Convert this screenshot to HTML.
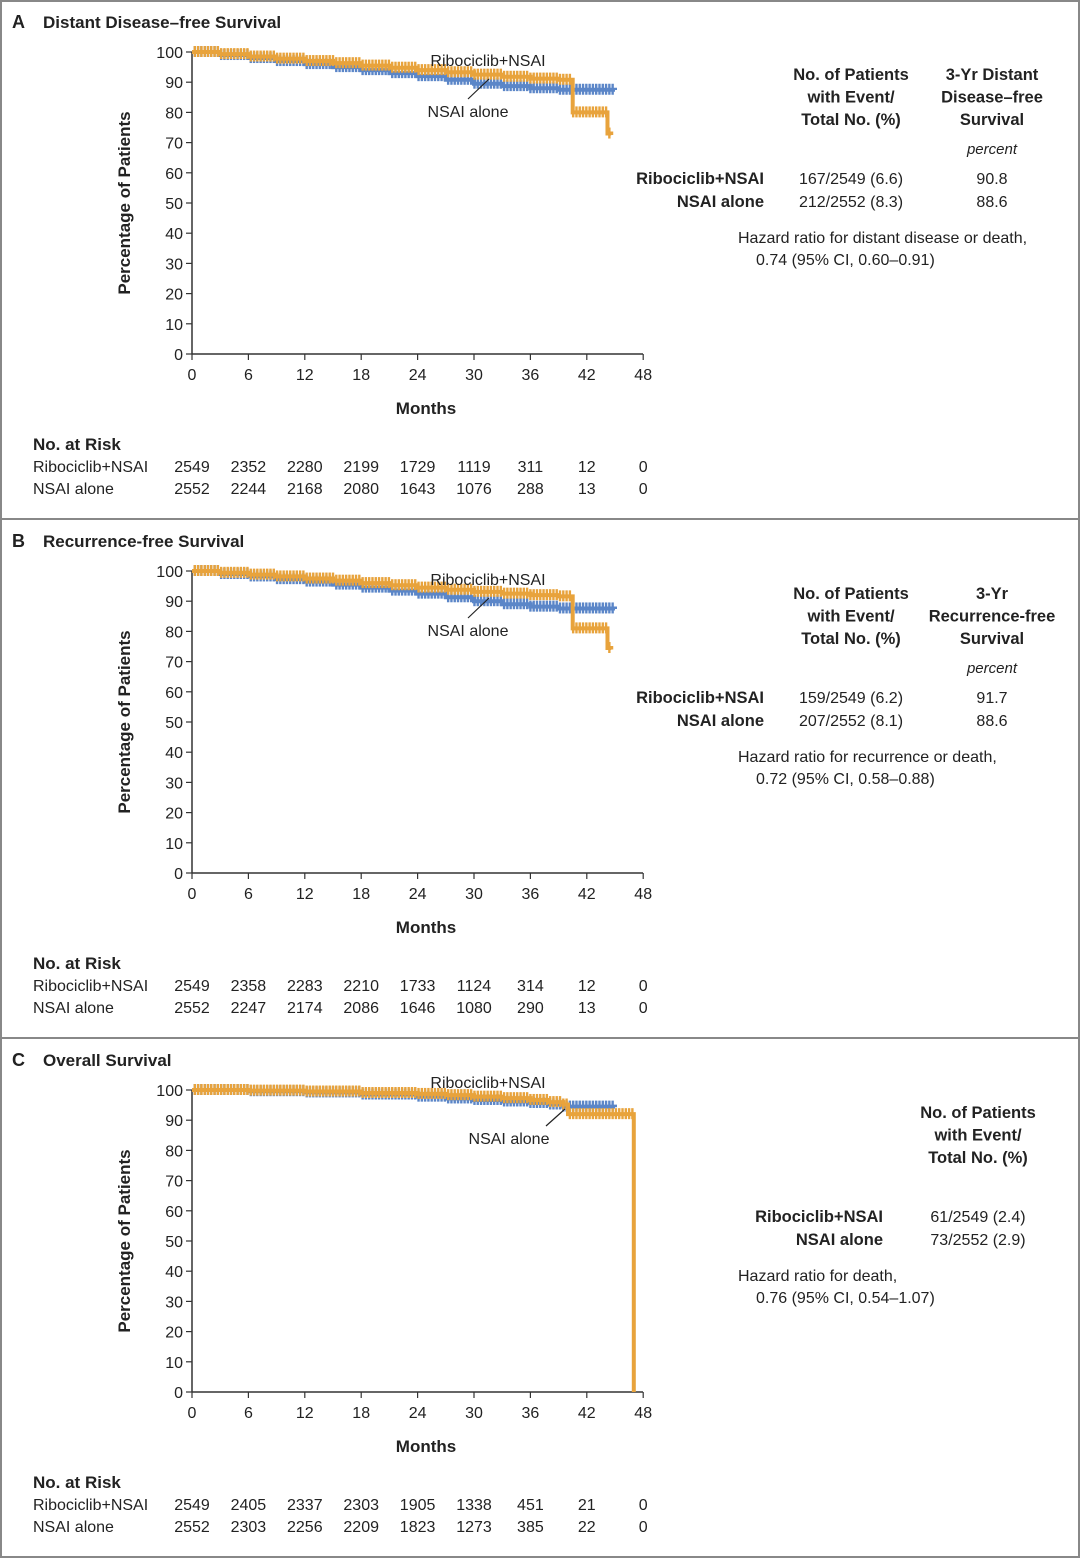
<!DOCTYPE html>
<html><head><meta charset="utf-8"><style>
body{margin:0;background:#fff;font-family:"Liberation Sans",sans-serif;}
svg{display:block}
text{font-family:"Liberation Sans",sans-serif;fill:#222}
</style></head><body>
<svg id="c" width="1080" height="1558"></svg>
<script>
const xTicks=[0,6,12,18,24,30,36,42,48];
const yTicks=[0,10,20,30,40,50,60,70,80,90,100];
const titles=["Distant Disease\u2013free Survival","Recurrence-free Survival","Overall Survival"];
const letters=["A","B","C"];
const riboA_t=[0,3,6,9,12,15,18,21,24,27,30,33,36,39,40.5,44.2,44.6];
const riboA_v=[100,99.3,98.5,97.8,97,96.3,95.5,94.8,94,93.3,92.5,91.8,91.2,90.8,80,73,72.5];
const nsaiA_t=[0,3,6,9,12,15,18,21,24,27,30,33,36,39,45];
const nsaiA_v=[100,99,98,97,96,95,94,93,92,90.8,89.5,88.7,88,87.5,87.4];
const riboB_t=[0,3,6,9,12,15,18,21,24,27,30,33,36,39,40.5,44.2,44.6];
const riboB_v=[100,99.4,98.8,98.2,97.5,96.8,96,95.3,94.5,93.8,93.1,92.5,92,91.6,81,74.5,74];
const nsaiB_t=[0,3,6,9,12,15,18,21,24,27,30,33,36,39,45];
const nsaiB_v=[100,99,98.2,97.3,96.5,95.5,94.5,93.5,92.5,91.3,90,89,88.2,87.6,87.4];
const riboC_t=[0,6,12,18,24,27,30,33,36,38,39.5,40,47,47];
const riboC_v=[100,99.8,99.5,99,98.7,98.3,97.8,97.3,96.7,96,95.2,92,92,0];
const nsaiC_t=[0,6,12,18,24,27,30,33,36,38,39.5,45];
const nsaiC_v=[100,99.6,99.2,98.5,97.8,97.2,96.7,96.2,95.7,95.2,94.5,94.3];
const riskRibo=[[2549,2352,2280,2199,1729,1119,311,12,0],[2549,2358,2283,2210,1733,1124,314,12,0],[2549,2405,2337,2303,1905,1338,451,21,0]];
const riskNsai=[[2552,2244,2168,2080,1643,1076,288,13,0],[2552,2247,2174,2086,1646,1080,290,13,0],[2552,2303,2256,2209,1823,1273,385,22,0]];
const series=[[riboA_t,riboA_v,nsaiA_t,nsaiA_v],[riboB_t,riboB_v,nsaiB_t,nsaiB_v],[riboC_t,riboC_v,nsaiC_t,nsaiC_v]];
const tables=[
 {h:["No. of Patients","with Event/","Total No. (%)"],h2:["3-Yr Distant","Disease\u2013free","Survival"],r:["167/2549 (6.6)","212/2552 (8.3)"],s:["90.8","88.6"],hr:["Hazard ratio for distant disease or death,","0.74 (95% CI, 0.60\u20130.91)"]},
 {h:["No. of Patients","with Event/","Total No. (%)"],h2:["3-Yr","Recurrence-free","Survival"],r:["159/2549 (6.2)","207/2552 (8.1)"],s:["91.7","88.6"],hr:["Hazard ratio for recurrence or death,","0.72 (95% CI, 0.58\u20130.88)"]},
 {h:["No. of Patients","with Event/","Total No. (%)"],r:["61/2549 (2.4)","73/2552 (2.9)"],hr:["Hazard ratio for death,","0.76 (95% CI, 0.54\u20131.07)"]}];
const svg=document.getElementById('c');const NS='http://www.w3.org/2000/svg';
function el(tag,a,p,txt){const e=document.createElementNS(NS,tag);for(const k in a)e.setAttribute(k,a[k]);if(txt!==undefined)e.textContent=txt;(p||svg).appendChild(e);return e;}
const X=m=>192+m*9.4;
const ORANGE='#e8a33c',BLUE='#5b86c8';
function valAt(tt,vv,m){let v=vv[0];for(let k=0;k<tt.length;k++){if(tt[k]<=m)v=vv[k];}return v;}
[0,519,1038].forEach((off,i)=>{
 const g=el('g',{});
 
 
 const Y=v=>off+354-v*3.02;
 if(i>0)el('line',{x1:0,x2:1080,y1:off,y2:off,stroke:'#888','stroke-width':2},g);
 el('text',{x:12,y:off+28,'font-size':18,'font-weight':'bold'},g,letters[i]);
 el('text',{x:43,y:off+28,'font-size':17,'font-weight':'bold'},g,titles[i]);
 el('line',{x1:192,x2:192,y1:Y(100),y2:Y(0),stroke:'#333','stroke-width':1.5},g);
 el('line',{x1:192,x2:643,y1:Y(0),y2:Y(0),stroke:'#333','stroke-width':1.5},g);
 yTicks.forEach(v=>{el('line',{x1:186,x2:192,y1:Y(v),y2:Y(v),stroke:'#333','stroke-width':1.2},g);
  el('text',{x:183,y:Y(v)+6,'font-size':16,'text-anchor':'end'},g,v);});
 xTicks.forEach(m=>{el('line',{x1:X(m),x2:X(m),y1:Y(0),y2:Y(0)+6,stroke:'#333','stroke-width':1.2},g);
  el('text',{x:X(m),y:Y(0)+26,'font-size':16,'text-anchor':'middle'},g,m);});
 el('text',{x:130,y:Y(50),'font-size':17,'font-weight':'bold','text-anchor':'middle',transform:`rotate(-90 130 ${Y(50)})`},g,'Percentage of Patients');
 el('text',{x:426,y:off+414,'font-size':17,'font-weight':'bold','text-anchor':'middle'},g,'Months');
 const s=series[i];
 [[s[2],s[3],BLUE,'nsai-curve'],[s[0],s[1],ORANGE,'ribociclib-curve']].forEach(([tt,vv,col,nm])=>{
  let d=`M${X(tt[0])},${Y(vv[0])}`;
  for(let k=1;k<tt.length;k++){d+=`L${X(tt[k])},${Y(vv[k-1])}L${X(tt[k])},${Y(vv[k])}`;}
  const p=el('path',{d:d,fill:'none',stroke:col,'stroke-width':4},g);
  
  const end=tt[tt.length-1];
  for(let m=0.3;m<end;m+=0.35){
   let v=valAt(tt,vv,m); if(v<=0)continue;
   el('line',{x1:X(m),x2:X(m),y1:Y(v)-6,y2:Y(v)+5,stroke:col,'stroke-width':2.4},g);}
 });
 if(i<2){
  el('text',{x:488,y:off+66,'font-size':16,'text-anchor':'middle'},g,'Ribociclib+NSAI');
  el('text',{x:468,y:off+117,'font-size':16,'text-anchor':'middle'},g,'NSAI alone');
  el('line',{x1:468,x2:489,y1:off+99,y2:off+79,stroke:'#222','stroke-width':1.2},g);
 }else{
  el('text',{x:488,y:off+50,'font-size':16,'text-anchor':'middle'},g,'Ribociclib+NSAI');
  el('text',{x:509,y:off+106,'font-size':16,'text-anchor':'middle'},g,'NSAI alone');
  el('line',{x1:546,x2:565,y1:off+88,y2:off+71,stroke:'#222','stroke-width':1.2},g);
 }
 const tb=tables[i];
 if(i<2){
  tb.h.forEach((h,k)=>el('text',{x:851,y:off+80+k*22.5,'font-size':16.5,'font-weight':'bold','text-anchor':'middle'},g,h));
  tb.h2.forEach((h,k)=>el('text',{x:992,y:off+80+k*22.5,'font-size':16.5,'font-weight':'bold','text-anchor':'middle'},g,h));
  el('text',{x:992,y:off+154,'font-size':15,'font-style':'italic','text-anchor':'middle'},g,'percent');
  ['Ribociclib+NSAI','NSAI alone'].forEach((n,k)=>{el('text',{x:764,y:off+184+k*23,'font-size':16.5,'font-weight':'bold','text-anchor':'end'},g,n);
   el('text',{x:851,y:off+184+k*23,'font-size':16,'text-anchor':'middle'},g,tb.r[k]);
   el('text',{x:992,y:off+184+k*23,'font-size':16,'text-anchor':'middle'},g,tb.s[k]);});
 }else{
  tb.h.forEach((h,k)=>el('text',{x:978,y:off+80+k*22.5,'font-size':16.5,'font-weight':'bold','text-anchor':'middle'},g,h));
  ['Ribociclib+NSAI','NSAI alone'].forEach((n,k)=>{el('text',{x:883,y:off+184+k*23,'font-size':16.5,'font-weight':'bold','text-anchor':'end'},g,n);
   el('text',{x:978,y:off+184+k*23,'font-size':16,'text-anchor':'middle'},g,tb.r[k]);});
 }
 el('text',{x:738,y:off+243,'font-size':16},g,tb.hr[0]);el('text',{x:756,y:off+265,'font-size':16},g,tb.hr[1]);
 el('text',{x:33,y:off+450,'font-size':17,'font-weight':'bold'},g,'No. at Risk');
 el('text',{x:33,y:off+472,'font-size':16},g,'Ribociclib+NSAI');
 el('text',{x:33,y:off+494,'font-size':16},g,'NSAI alone');
 xTicks.forEach((m,k)=>{
  el('text',{x:X(m),y:off+472,'font-size':16,'text-anchor':'middle'},g,riskRibo[i][k]);
  el('text',{x:X(m),y:off+494,'font-size':16,'text-anchor':'middle'},g,riskNsai[i][k]);});
});
el('rect',{x:1,y:1,width:1078,height:1556,fill:'none',stroke:'#888','stroke-width':2});
</script>
</body></html>
